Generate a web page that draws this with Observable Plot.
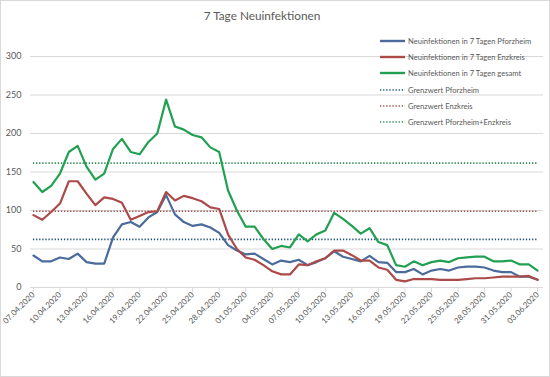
<!DOCTYPE html>
<html>
<head>
<meta charset="utf-8">
<script src="https://cdn.jsdelivr.net/npm/d3@7"></script>
<script src="https://cdn.jsdelivr.net/npm/@observablehq/plot@0.6"></script>
<style>
  html, body { margin: 0; padding: 0; background: #fff; }
  #wrap { position: relative; width: 550px; height: 377px; overflow: hidden; font-family: Lato, "Open Sans", sans-serif; }
  #title { position: absolute; left: 0; width: 524px; top: 8px; text-align: center; font-size: 11.8px; color: #595959; }
  #legend { position: absolute; left: 380px; top: 33px; font-size: 7.6px; color: #595959; }
  .row { position: relative; height: 16.2px; line-height: 16.2px; white-space: nowrap; }
  .sw { position: absolute; left: 0; top: 5px; width: 25px; height: 6px; }
  .lbl { position: absolute; left: 28px; top: 0; }
  #border { position: absolute; left: 0; top: 0; width: 548px; height: 375px; border: 1px solid #d9d9d9; pointer-events: none; }
  #wrap > svg { position: absolute; left: 0; top: 0; }
</style>
</head>
<body>
<div id="wrap">
  <div id="title">7 Tage Neuinfektionen</div>
  <div id="legend"></div>
  <div id="border"></div>
</div>
<script>
// ---- data ----
const startDate = "2020-04-07";
const pforzheim = [41.5, 34, 34, 39, 37, 44, 33, 31, 31, 65, 82, 85, 79, 91, 98, 120, 95, 85, 80, 82, 78, 71, 55, 48, 43, 44, 37, 30, 35, 33, 36, 29, 33, 38, 47, 40, 37, 34, 41, 33, 32, 20, 20, 24, 17, 22, 24, 22, 26, 27, 27, 26, 22, 20, 20, 14, 14, 10];
const enzkreis = [94, 88, 98, 109, 138, 138, 122, 107, 117, 115, 110, 88, 93, 98, 99, 124, 113, 119, 116, 112, 104, 102, 69, 50, 39, 36, 29, 21, 17, 17, 30, 29, 34, 38, 48, 48, 42, 35, 35, 26, 23, 10, 8, 11, 11, 11, 10, 10, 10, 11, 12, 12, 13, 14, 14, 14, 15, 10];
const gesamt = [137, 124, 132, 148, 176, 184, 157, 140, 148, 180, 193, 176, 173, 189, 200, 244, 209, 205, 198, 195, 182, 176, 126, 100, 79, 79, 63, 50, 54, 52, 69, 60, 69, 74, 97, 89, 80, 70, 77, 59, 55, 29, 27, 34, 29, 33, 35, 33, 38, 39, 40, 40, 34, 34, 35, 30, 30, 22];
const grenzwerte = [62.5, 99, 161.5]; // Pforzheim, Enzkreis, Pforzheim+Enzkreis
const xTickLabels = ["07.04.2020","10.04.2020","13.04.2020","16.04.2020","19.04.2020","22.04.2020","25.04.2020","28.04.2020","01.05.2020","04.05.2020","07.05.2020","10.05.2020","13.05.2020","16.05.2020","19.05.2020","22.05.2020","25.05.2020","28.05.2020","31.05.2020","03.06.2020"];
const yTicks = [0, 50, 100, 150, 200, 250, 300];

const seriesNames = [
  "Neuinfektionen in 7 Tagen Pforzheim",
  "Neuinfektionen in 7 Tagen Enzkreis",
  "Neuinfektionen in 7 Tagen gesamt",
  "Grenzwert Pforzheim",
  "Grenzwert Enzkreis",
  "Grenzwert Pforzheim+Enzkreis"
];
const seriesColors = ["#4a6b9b", "#ab4a49", "#22a052", "#1f5478", "#9c4a49", "#2f8a56"];

// ---- build tables ----
const parseTick = d3.utcParse("%d.%m.%Y");
const start = new Date(startDate + "T00:00Z");
const dates = pforzheim.map((_, i) => d3.utcDay.offset(start, i));
const mk = (vals) => vals.map((v, i) => ({date: dates[i], value: v}));
const solidSeries = [pforzheim, enzkreis, gesamt].map(mk);
const limits = grenzwerte.map((v, i) => ({value: v, x1: dates[0], x2: dates[dates.length - 1], color: seriesColors[i + 3]}));
const tickDates = xTickLabels.map(parseTick);
const DASH = "1.3,1.8";

const chart = Plot.plot({
  width: 550,
  height: 377,
  marginTop: 56,
  marginBottom: 90,
  marginLeft: 30,
  marginRight: 7,
  style: {fontFamily: "Lato, 'Open Sans', sans-serif", color: "#595959", background: "transparent"},
  x: {type: "utc", domain: [new Date("2020-04-06T16:00Z"), new Date("2020-06-03T16:00Z")]},
  y: {domain: [0, 300]},
  marks: [
    Plot.gridY(yTicks.filter(t => t > 0), {stroke: "#d9d9d9", strokeOpacity: 1}),
    Plot.ruleY([0], {stroke: "#d9d9d9"}),
    Plot.axisY({ticks: yTicks, tickSize: 0, tickPadding: 9, fontSize: 9, fill: "#595959", label: null}),
    Plot.axisX({ticks: tickDates, tickFormat: d3.utcFormat("%d.%m.%Y"), tickRotate: -45, tickSize: 5, tickPadding: 1, fontSize: 8, stroke: "#d9d9d9", fill: "#595959", label: null}),
    ...limits.map(l => Plot.ruleY([l], {y: "value", x1: "x1", x2: "x2", stroke: l.color, strokeWidth: 1.7, strokeDasharray: DASH})),
    ...solidSeries.map((s, i) => Plot.line(s, {x: "date", y: "value", stroke: seriesColors[i], strokeWidth: 2.2, strokeLinejoin: "round"}))
  ]
});
document.getElementById("wrap").insertBefore(chart, document.getElementById("title"));

// ---- legend ----
const leg = document.getElementById("legend");
const NS = "http://www.w3.org/2000/svg";
seriesNames.forEach((n, i) => {
  const row = document.createElement("div");
  row.className = "row";
  const sw = document.createElementNS(NS, "svg");
  sw.setAttribute("class", "sw");
  sw.setAttribute("width", "25");
  sw.setAttribute("height", "6");
  const ln = document.createElementNS(NS, "line");
  ln.setAttribute("x1", "0"); ln.setAttribute("x2", "25");
  ln.setAttribute("y1", "3"); ln.setAttribute("y2", "3");
  ln.setAttribute("stroke", seriesColors[i]);
  if (i < 3) {
    ln.setAttribute("stroke-width", "2.4");
  } else {
    ln.setAttribute("stroke-width", "1.7");
    ln.setAttribute("stroke-dasharray", DASH);
  }
  sw.appendChild(ln);
  const lb = document.createElement("div");
  lb.className = "lbl";
  lb.textContent = n;
  row.appendChild(sw);
  row.appendChild(lb);
  leg.appendChild(row);
});
</script>
</body>
</html>
